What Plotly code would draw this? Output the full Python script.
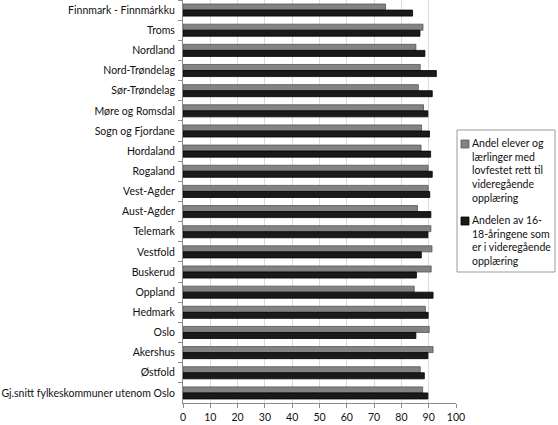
import plotly.graph_objects as go

fylker = [
    "Finnmark - Finnmárkku", "Troms", "Nordland", "Nord-Trøndelag", "Sør-Trøndelag",
    "Møre og Romsdal", "Sogn og Fjordane", "Hordaland", "Rogaland", "Vest-Agder",
    "Aust-Agder", "Telemark", "Vestfold", "Buskerud", "Oppland", "Hedmark", "Oslo",
    "Akershus", "Østfold", "Gj.snitt fylkeskommuner utenom Oslo",
]
andel_rett = [74.2, 87.9, 85.3, 86.9, 86.2, 88.1, 87.4, 87.2, 89.8, 89.8,
              85.9, 90.8, 91.2, 90.9, 84.7, 88.8, 90.2, 91.6, 86.9, 87.8]
andel_16_18 = [84.1, 86.8, 88.6, 92.8, 91.3, 89.7, 90.3, 90.7, 91.3, 90.4,
               90.8, 89.7, 87.3, 85.5, 91.6, 89.8, 85.3, 89.7, 88.4, 89.7]

navn_rett = "Andel elever og<br>lærlinger med<br>lovfestet rett til<br>videregående<br>opplæring"
navn_16_18 = "Andelen av 16-<br>18-åringene som<br>er i videregående<br>opplæring"

GRA = "#838383"
SVART = "#1a1a1a"

fig = go.Figure()
fig.add_trace(go.Bar(
    y=fylker, x=andel_rett, orientation="h", name="Andel elever og lærlinger med lovfestet rett til videregående opplæring",
    marker=dict(color=GRA, line=dict(color="#555555", width=0.8)),
))
fig.add_trace(go.Bar(
    y=fylker, x=andel_16_18, orientation="h", name="Andelen av 16-18-åringene som er i videregående opplæring",
    marker=dict(color=SVART, line=dict(color="#000000", width=0.8)),
))

# plottet går fra x=183 til 456 px og y=0 til 403 px
def px_x(p):
    return (p - 183) / 273

def px_y(p):
    return (403 - p) / 403

# legenden tegnes for hand så den får samme smale boks som originalen
fig.add_shape(type="rect", xref="paper", yref="paper",
              x0=px_x(457), x1=px_x(555), y0=px_y(272), y1=px_y(130),
              line=dict(color="#9a9a9a", width=1), fillcolor="white")
fig.add_shape(type="rect", xref="paper", yref="paper",
              x0=px_x(461), x1=px_x(469), y0=px_y(148), y1=px_y(140),
              line=dict(color="#555555", width=0.8), fillcolor=GRA)
fig.add_shape(type="rect", xref="paper", yref="paper",
              x0=px_x(461), x1=px_x(469), y0=px_y(225), y1=px_y(217),
              line=dict(color="#000000", width=0.8), fillcolor=SVART)
fig.add_annotation(text=navn_rett, xref="paper", yref="paper",
                   x=px_x(471), y=px_y(136), xanchor="left", yanchor="top",
                   align="left", showarrow=False, borderpad=0,
                   font=dict(size=10.5))
fig.add_annotation(text=navn_16_18, xref="paper", yref="paper",
                   x=px_x(471), y=px_y(213), xanchor="left", yanchor="top",
                   align="left", showarrow=False, borderpad=0,
                   font=dict(size=10.5))

fig.update_layout(
    width=558, height=425,
    margin=dict(l=183, r=102, t=0, b=22),
    paper_bgcolor="white", plot_bgcolor="white",
    font=dict(family="Lato", size=10.5, color="#111111"),
    barmode="group", bargap=0.4, bargroupgap=0,
    showlegend=False,
    xaxis=dict(
        range=[0, 100], dtick=10, showgrid=True, gridcolor="#dcdcdc",
        showline=True, linecolor="#8c8c8c", ticks="outside", ticklen=4,
        tickcolor="#8c8c8c", zeroline=False, automargin=False,
    ),
    yaxis=dict(
        autorange="reversed", showline=True, linecolor="#8c8c8c",
        ticks="outside", ticklen=4, tickcolor="#8c8c8c", tickson="boundaries",
        showgrid=False, automargin=False, ticklabelstandoff=5,
    ),
)

# siden har 8 px marg rundt body som standard, den fjernes
fig.write_html("out.html", config={"displayModeBar": False},
               post_script="document.body.style.margin='0';")
